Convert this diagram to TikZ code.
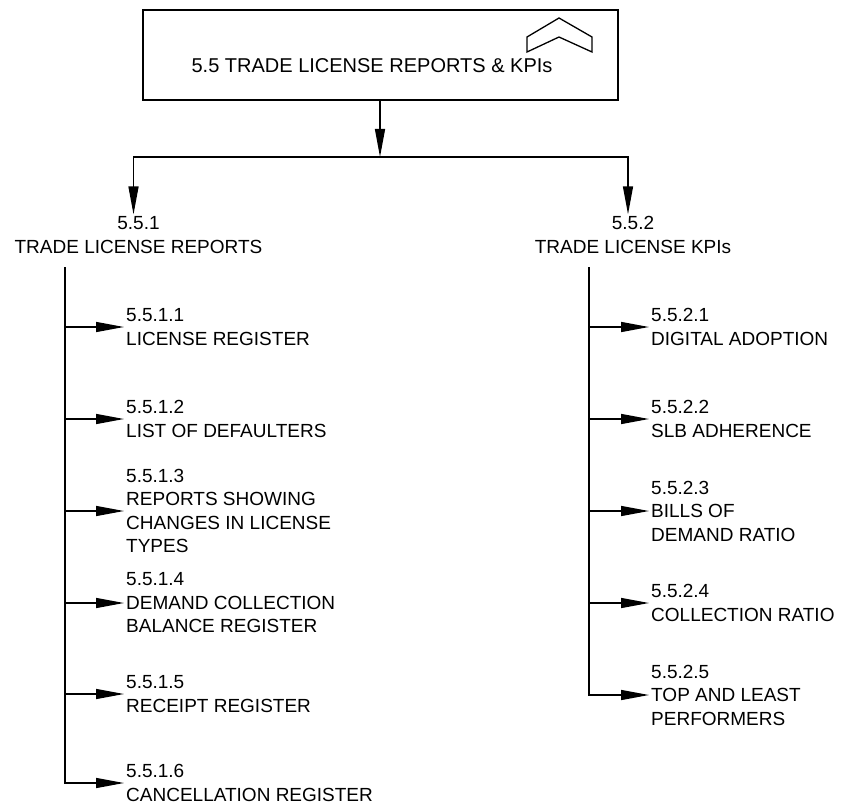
\documentclass[tikz,border=0pt]{standalone}
\usepackage{fontspec}
\setmainfont{Liberation Sans}
\usetikzlibrary{
    arrows.meta,
    positioning,
    calc
}

\begin{document}
\begin{tikzpicture}[
        x=1pt, y=-1pt,
        mainbox/.style={draw, line width=1.8pt, minimum width=475pt, minimum height=90pt, inner sep=0pt},
        arrow/.style={-{Triangle[length=28pt, width=10pt]}, line width=1.4pt},
        head/.style={font=\fontsize{19}{23.5}\selectfont, align=center, inner sep=2pt},
        leaf/.style={font=\fontsize{19}{23.5}\selectfont, align=left, anchor=west, inner sep=2pt}
    ]
        \useasboundingbox (0,0) rectangle (842,805);

        % Top box
        \node[mainbox] (top) at (380.5,55) {};
        \node[head, font=\fontsize{20}{24}\selectfont] (toptext) at (372,66) {5.5 TRADE LICENSE REPORTS \& KPIs};
        \draw[line width=1.3pt, line join=miter] (527,37) -- (559,18) -- (592,37) -- (592,52) -- (559,37) -- (527,52) -- cycle;

        % Split
        \coordinate (hub) at (380,157);
        \draw[arrow] (top.south -| hub) -- (hub);

        % Second level
        \node[head] (rep) at (138.5,235) {5.5.1\\TRADE LICENSE REPORTS};
        \node[head] (kpi) at (633,235) {5.5.2\\TRADE LICENSE KPIs};
        \draw[arrow] (hub) -| ([xshift=-5pt]rep.north);
        \draw[arrow] (hub) -| ([xshift=-5pt]kpi.north);

        % Reports
        \coordinate (rspine) at (65,267);
        \node[leaf] (r1) at (124,327) {5.5.1.1\\LICENSE REGISTER};
        \node[leaf] (r2) at (124,419) {5.5.1.2\\LIST OF DEFAULTERS};
        \node[leaf] (r3) at (124,511) {5.5.1.3\\REPORTS SHOWING\\CHANGES IN LICENSE\\TYPES};
        \node[leaf] (r4) at (124,603) {5.5.1.4\\DEMAND COLLECTION\\BALANCE REGISTER};
        \node[leaf] (r5) at (124,694) {5.5.1.5\\RECEIPT REGISTER};
        \node[leaf] (r6) at (124,783) {5.5.1.6\\CANCELLATION REGISTER};

        % KPIs
        \coordinate (kspine) at (589,267);
        \node[leaf] (k1) at (649,327) {5.5.2.1\\DIGITAL ADOPTION};
        \node[leaf] (k2) at (649,419) {5.5.2.2\\SLB ADHERENCE};
        \node[leaf] (k3) at (649,511) {5.5.2.3\\BILLS OF\\DEMAND RATIO};
        \node[leaf] (k4) at (649,603) {5.5.2.4\\COLLECTION RATIO};
        \node[leaf] (k5) at (649,695) {5.5.2.5\\TOP AND LEAST\\PERFORMERS};

        % Arrows
        \draw[arrow] (rspine) |- (r6.west);
        \draw[arrow] (r1.west -| rspine) -- (r1.west);
        \draw[arrow] (r2.west -| rspine) -- (r2.west);
        \draw[arrow] (r3.west -| rspine) -- (r3.west);
        \draw[arrow] (r4.west -| rspine) -- (r4.west);
        \draw[arrow] (r5.west -| rspine) -- (r5.west);

        \draw[arrow] (kspine) |- (k5.west);
        \draw[arrow] (k1.west -| kspine) -- (k1.west);
        \draw[arrow] (k2.west -| kspine) -- (k2.west);
        \draw[arrow] (k3.west -| kspine) -- (k3.west);
        \draw[arrow] (k4.west -| kspine) -- (k4.west);

    \end{tikzpicture}
\end{document}
